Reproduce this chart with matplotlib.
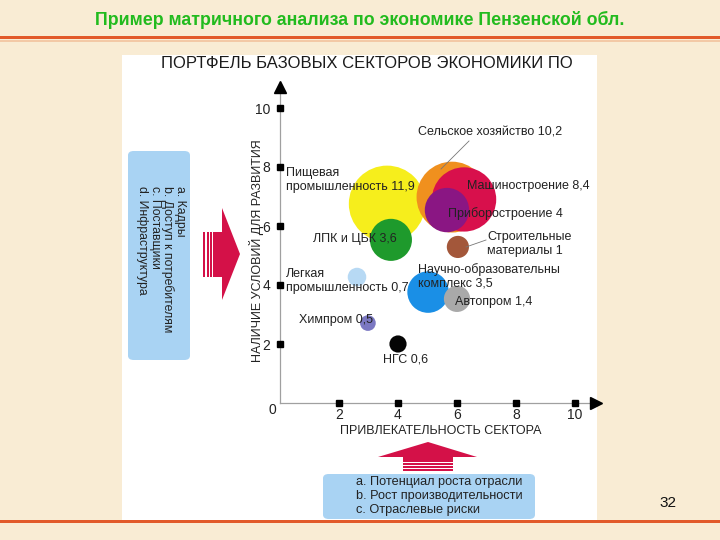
import matplotlib
matplotlib.use("Agg")
import matplotlib.pyplot as plt
from matplotlib.patches import FancyBboxPatch, Rectangle, Polygon

plt.rcParams['font.family'] = ['Liberation Sans', 'DejaVu Sans']

# ---- data ----
sectors = ["Пищевая\nпромышленность 11,9", "Сельское хозяйство 10,2", "Машиностроение 8,4",
           "Приборостроение 4", "ЛПК и ЦБК 3,6", "Строительные\nматериалы 1",
           "Легкая\nпромышленность 0,7", "Научно-образовательны\nкомплекс 3,5",
           "Автопром 1,4", "Химпром 0,5", "НГС 0,6"]
attractiveness = [3.63, 5.83, 6.24, 5.66, 3.76, 6.03, 2.61, 5.02, 6.00, 2.98, 4.00]
conditions = [6.75, 6.98, 6.90, 6.54, 5.53, 5.29, 4.27, 3.76, 3.53, 2.71, 2.00]
share = [11.9, 10.2, 8.4, 4.0, 3.6, 1.0, 0.7, 3.5, 1.4, 0.5, 0.6]
colors = ["#f6ee1c", "#f0901e", "#d8104c", "#8a1683", "#1e9a2c", "#a3573a",
          "#b7d9f4", "#1a8fe6", "#a9a9a9", "#7b78c2", "#050505"]
x_ticks = [2, 4, 6, 8, 10]
y_ticks = [2, 4, 6, 8, 10]
left_factors = ["a. Кадры", "b. Доступ к потребителям", "c. Поставщики", "d. Инфраструктура"]
bottom_factors = ["a. Потенциал роста отрасли", "b. Рост производительности", "c. Отраслевые риски"]

W, H = 720, 540
fig = plt.figure(figsize=(7.2, 5.4), dpi=100)
fig.patch.set_facecolor("#f9ecd4")

def fx(x):
    return x / W

def fy(y):
    return 1 - y / H

# slide title and lines
fig.text(fx(360), fy(20), "Пример матричного анализа по экономике Пензенской обл.",
         ha="center", va="center", color="#22bb1e", fontsize=12.8, fontweight="bold")
fig.add_artist(Rectangle((0, fy(38.5)), 1, 3 / H, transform=fig.transFigure,
                         color="#e25a2a", lw=0))
fig.add_artist(Rectangle((0, fy(41.5)), 1, 2 / H, transform=fig.transFigure,
                         color="#f3c9a6", lw=0))
fig.add_artist(Rectangle((0, fy(523)), 1, 3 / H, transform=fig.transFigure,
                         color="#e25a2a", lw=0))
# white panel
fig.add_artist(Rectangle((fx(122), fy(520)), (597 - 122) / W, (520 - 55) / H,
                         transform=fig.transFigure, color="white", lw=0, zorder=0))
fig.text(fx(668), fy(503), "32", ha="center", va="center", fontsize=11, color="#111111")

# chart title
fig.text(fx(367), fy(64), "ПОРТФЕЛЬ БАЗОВЫХ СЕКТОРОВ ЭКОНОМИКИ ПО", ha="center", va="center",
         fontsize=12, color="#1a1a1a")

# axes
px = 29.5
ax_left, ax_right, ax_top, ax_bottom = 280, 596, 87, 403
ax = fig.add_axes([fx(ax_left), fy(ax_bottom), (ax_right - ax_left) / W, (ax_bottom - ax_top) / H])
ax.set_xlim(0, (ax_right - ax_left) / px)
ax.set_ylim(0, (ax_bottom - ax_top) / px)
ax.patch.set_alpha(0)
for s in ["top", "right"]:
    ax.spines[s].set_visible(False)
for s in ["left", "bottom"]:
    ax.spines[s].set_color("#a0a0a0")
    ax.spines[s].set_linewidth(0.9)
ax.set_xticks(x_ticks)
ax.set_xticklabels([str(v) for v in x_ticks])
ax.set_yticks(y_ticks)
ax.set_yticklabels([str(v) for v in y_ticks])
ax.tick_params(length=0, labelsize=10, colors="#222222")
ax.tick_params(axis="x", pad=3.5)
ax.tick_params(axis="y", pad=7)
ax.plot(x_ticks, [0] * len(x_ticks), "s", color="black", ms=4.5, clip_on=False, zorder=3)
ax.plot([0] * len(y_ticks), y_ticks, "s", color="black", ms=4.5, clip_on=False, zorder=3)
ax.plot([ax.get_xlim()[1]], [0], ">", color="black", ms=8, clip_on=False, zorder=3)
ax.plot([0], [ax.get_ylim()[1]], "^", color="black", ms=8, clip_on=False, zorder=3)
fig.text(fx(272), fy(410), "0", ha="center", va="center", fontsize=10, color="#222222")

ax.set_xlabel("ПРИВЛЕКАТЕЛЬНОСТЬ СЕКТОРА", fontsize=9, color="#222222")
ax.set_ylabel("НАЛИЧИЕ УСЛОВИЙ ДЛЯ РАЗВИТИЯ", fontsize=9, color="#222222")
ax.yaxis.set_label_coords(-(ax_left - 256) / (ax_right - ax_left), (ax_bottom - 251) / (ax_bottom - ax_top))
ax.xaxis.set_label_coords((441 - ax_left) / (ax_right - ax_left), -(431 - ax_bottom) / (ax_bottom - ax_top))
ax.xaxis.label.set_va("center")
ax.yaxis.label.set_va("center")

# bubbles (drawing order matters)
for i in range(len(share)):
    ax.scatter(attractiveness[i], conditions[i], s=255 * share[i], color=colors[i],
               edgecolors="none", zorder=2, clip_on=False)

# labels (pixel positions of text left edges)
label_pos = [(286, 180), (418, 133), (467, 186), (448, 214), (313, 239), (487, 244),
             (286, 281), (418, 276), (455, 302), (299, 320), (383, 359)]
for (lx, ly), txt in zip(label_pos, sectors):
    fig.text(fx(lx), fy(ly), txt, ha="left", va="center", fontsize=9, color="#222222",
             linespacing=1.2, zorder=5)

# leader lines
fig.add_artist(plt.Line2D([fx(469), fx(441)], [fy(141), fy(169)], color="#777777", lw=0.6))
fig.add_artist(plt.Line2D([fx(466), fx(486)], [fy(247), fy(240)], color="#777777", lw=0.6))

# left factor box
fig.add_artist(FancyBboxPatch((fx(128), fy(360)), (190 - 128) / W, (360 - 151) / H,
                              boxstyle="round,pad=0,rounding_size=0.008",
                              transform=fig.transFigure, color="#a9d3f3", lw=0))
for k, t in enumerate(left_factors):
    fig.text(fx(180 - 12.7 * k), fy(186), t, rotation=-90, ha="center", va="top",
             fontsize=8.8, color="#222222")

# left arrow
red = "#d41148"
fig.add_artist(Polygon([[fx(213), fy(232)], [fx(222), fy(232)], [fx(222), fy(208)],
                        [fx(240), fy(254)], [fx(222), fy(300)], [fx(222), fy(277)],
                        [fx(213), fy(277)]], closed=True, transform=fig.transFigure,
                       color=red, lw=0))
for xs in [203, 206.5, 210]:
    fig.add_artist(Rectangle((fx(xs), fy(277)), 2 / W, 45 / H, transform=fig.transFigure,
                             color=red, lw=0))

# bottom arrow
fig.add_artist(Polygon([[fx(403), fy(462)], [fx(403), fy(457)], [fx(378), fy(457)],
                        [fx(428), fy(442)], [fx(477), fy(457)], [fx(453), fy(457)],
                        [fx(453), fy(462)]], closed=True, transform=fig.transFigure,
                       color=red, lw=0))
for ys in [463.5, 466.5, 469.5]:
    fig.add_artist(Rectangle((fx(403), fy(ys + 1.5)), 50 / W, 1.7 / H,
                             transform=fig.transFigure, color=red, lw=0))

# bottom factor box
fig.add_artist(FancyBboxPatch((fx(323), fy(519)), (535 - 323) / W, (519 - 474) / H,
                              boxstyle="round,pad=0,rounding_size=0.008",
                              transform=fig.transFigure, color="#a9d3f3", lw=0))
for k, t in enumerate(bottom_factors):
    fig.text(fx(356), fy(482 + 14 * k), t, ha="left", va="center", fontsize=9.2,
             color="#222222")

fig.savefig("out.png", dpi=100, facecolor=fig.get_facecolor())
